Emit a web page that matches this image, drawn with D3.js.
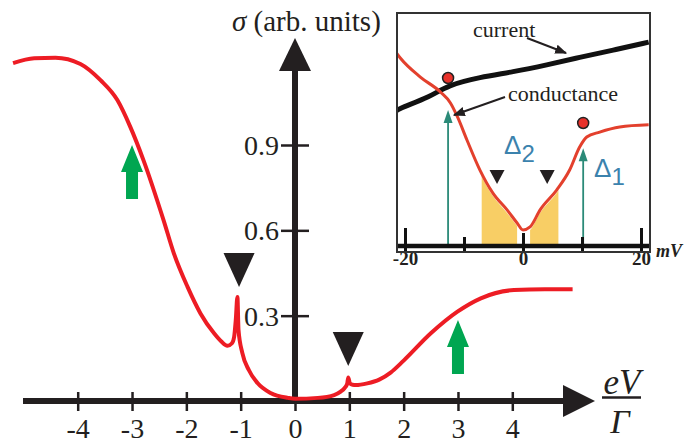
<!DOCTYPE html>
<html>
<head>
    <script type="text/javascript" src="https://d3js.org/d3.v7.min.js"></script>
    <style>
        body { margin: 0; background: #fff; }
        svg { display: block; }
    </style>
</head>
<body>
    <div id="chart"></div>
    <script type="text/javascript">
        // main curve, sigma vs eV/Gamma
        const sigmaX = [-5.19, -4.8, -4.41, -3.95, -3.58, -3.27, -3.03, -2.79, -2.42, -2.23, -1.98, -1.74, -1.49, -1.36, -1.245, -1.16, -1.12, -1.09, -1.06, -1.04, -0.97, -0.85, -0.69, -0.45, -0.13, 0, 0.42, 0.72, 0.84, 0.91, 0.96, 0.98, 1.01, 1.06, 1.12, 1.33, 1.55, 1.76, 2.0, 2.5, 2.99, 3.42, 4.03, 4.6, 5.11];
        const sigmaY = [1.188, 1.205, 1.207, 1.185, 1.128, 1.058, 0.963, 0.847, 0.636, 0.519, 0.402, 0.308, 0.238, 0.21, 0.194, 0.203, 0.226, 0.285, 0.366, 0.25, 0.169, 0.109, 0.063, 0.028, 0.011, 0.008, 0.011, 0.021, 0.033, 0.045, 0.06, 0.083, 0.062, 0.057, 0.056, 0.062, 0.075, 0.1, 0.142, 0.238, 0.314, 0.361, 0.39, 0.393, 0.393];
        const xTicks = [-4, -3, -2, -1, 0, 1, 2, 3, 4];
        const yTicks = [0.3, 0.6, 0.9];

        // annotations on the main plot
        const peakX = [-1.03, 0.98];     // black triangles
        const peakTop = [0.52, 0.243];
        const greenX = [-3, 3];          // green arrows
        const greenTop = [0.9, 0.285];
        const greenBottom = [0.71, 0.095];

        // inset (mV, arb. units 0..100)
        const currentMv = [-21.5, -20.8, -15.7, -12.8, -7.3, -1.7, 4.05, 9.6, 15.2, 21.3];
        const currentVal = [58, 59.2, 64, 69, 72.5, 74.7, 77.7, 81, 84, 87.5];
        const condMv = [-21.5, -20.8, -17.4, -14.0, -12.3, -11.1, -9.5, -7.3, -5.1, -2.7, -1.0, 0, 1.2, 2.9, 5.7, 7.9, 9.6, 10.8, 13.0, 16.4, 21.3];
        const condVal = [83, 80.7, 72.5, 66.1, 61.4, 55.4, 45.5, 32.6, 22.7, 15.5, 9.9, 6.9, 8.2, 15.5, 24, 32.6, 42.5, 46.8, 48.9, 51.1, 52];
        const insetTicks = [-20, -10, 0, 10, 20];
        const gapMv = [-12.7, 10.2];     // teal arrows
        const gapTip = [58.4, 42];
        const dotVal = [72.1, 52.8];     // red dots
        const smallTriMv = [-4.4, 4.1];
        const smallTriTop = [32.6, 32.6];
        const bandFrom = [-7, 1.2];
        const bandTo = [-1, 6];

        const ink = "#231f20";
        const serif = "Liberation Serif, Times New Roman, serif";

        const svg = d3.select("#chart").append("svg")
            .attr("width", 686)
            .attr("height", 441)
            .style("background-color", "white");

        const x = d3.scaleLinear().domain([-4, 4]).range([77.7, 512.3]);
        const y = d3.scaleLinear().domain([0, 0.9]).range([401, 145]);
        const x0 = x(0), y0 = y(0);

        // axes lines + arrowheads
        svg.append("line")
            .attr("x1", 23).attr("x2", 566).attr("y1", y0).attr("y2", y0)
            .attr("stroke", ink).attr("stroke-width", 6);
        svg.append("path")
            .attr("d", `M 563 ${y0 - 16} L 595 ${y0} L 563 ${y0 + 16} Z`)
            .attr("fill", ink);
        svg.append("line")
            .attr("x1", x0).attr("x2", x0).attr("y1", y0 + 3).attr("y2", 68)
            .attr("stroke", ink).attr("stroke-width", 6);
        svg.append("path")
            .attr("d", `M ${x0 - 16} 71 L ${x0} 38 L ${x0 + 16} 71 Z`)
            .attr("fill", ink);

        const gx = svg.append("g")
            .attr("transform", `translate(0,${y0})`)
            .call(d3.axisBottom(x).tickValues(xTicks).tickSizeOuter(0)
                .tickFormat(d => d < 0 ? "-" + Math.abs(d) : d));
        gx.attr("font-family", serif).attr("font-size", 28);
        gx.select(".domain").remove();
        gx.selectAll(".tick line").attr("y1", -9).attr("y2", 10)
            .attr("stroke", ink).attr("stroke-width", 2.5);
        gx.selectAll(".tick text").attr("y", 17).attr("dy", "0.71em").attr("fill", ink);

        const gy = svg.append("g")
            .attr("transform", `translate(${x0},0)`)
            .call(d3.axisLeft(y).tickValues(yTicks).tickSizeOuter(0).tickFormat(d3.format(".1f")));
        gy.attr("font-family", serif).attr("font-size", 28);
        gy.select(".domain").remove();
        gy.selectAll(".tick line").attr("x1", -14).attr("x2", 14)
            .attr("stroke", ink).attr("stroke-width", 2.5);
        gy.selectAll(".tick text").attr("x", -16).attr("dy", "0.34em").attr("fill", ink);

        // axis titles
        const yt = svg.append("text")
            .attr("x", 232).attr("y", 31)
            .attr("font-family", serif).attr("font-size", 29).attr("fill", ink);
        yt.append("tspan").attr("font-style", "italic").text("σ");
        yt.append("tspan").text(" (arb. units)");

        svg.append("text").attr("x", 622).attr("y", 394).attr("text-anchor", "middle")
            .attr("font-family", serif).attr("font-size", 35).attr("font-style", "italic")
            .attr("fill", ink).text("eV");
        svg.append("line").attr("x1", 602).attr("x2", 641).attr("y1", 397.5).attr("y2", 397.5)
            .attr("stroke", ink).attr("stroke-width", 2.5);
        svg.append("text").attr("x", 620).attr("y", 433).attr("text-anchor", "middle")
            .attr("font-family", serif).attr("font-size", 34).attr("font-style", "italic")
            .attr("fill", ink).text("Γ");

        // red conductance curve
        const sigmaData = sigmaX.map((d, i) => [d, sigmaY[i]]);
        svg.append("path")
            .datum(sigmaData)
            .attr("d", d3.line().x(d => x(d[0])).y(d => y(d[1])).curve(d3.curveMonotoneX))
            .attr("fill", "none")
            .attr("stroke", "#ed1c24")
            .attr("stroke-width", 4)
            .attr("stroke-linejoin", "round");

        // black triangles
        svg.selectAll("path.peak")
            .data(peakX.map((d, i) => [d, peakTop[i]]))
            .enter()
            .append("path")
            .attr("class", "peak")
            .attr("d", function(d){
                let cx = x(d[0]), t = y(d[1]);
                return `M ${cx - 15.5} ${t} L ${cx + 15.5} ${t} L ${cx} ${t + 34} Z`;
            })
            .attr("fill", ink);

        // green arrows
        svg.selectAll("path.green")
            .data(greenX.map((d, i) => [d, greenTop[i], greenBottom[i]]))
            .enter()
            .append("path")
            .attr("class", "green")
            .attr("d", function(d){
                let cx = x(d[0]), tip = y(d[1]), bot = y(d[2]), hb = tip + 27;
                return `M ${cx} ${tip} L ${cx + 11} ${hb} L ${cx + 6} ${hb} L ${cx + 6} ${bot} L ${cx - 6} ${bot} L ${cx - 6} ${hb} L ${cx - 11} ${hb} Z`;
            })
            .attr("fill", "#00a651");

        // ---------------- inset ----------------
        const ix = d3.scaleLinear().domain([-20, 20]).range([405, 641]);
        const iy = d3.scaleLinear().domain([0, 100]).range([246, 13]);
        const box = {x: 397, y: 13, w: 253, h: 239};

        const defs = svg.append("defs");
        defs.append("clipPath").attr("id", "insetClip")
            .append("rect").attr("x", box.x).attr("y", box.y).attr("width", box.w).attr("height", box.h);
        bandFrom.forEach((b, i) => {
            defs.append("clipPath").attr("id", "band" + i)
                .append("rect").attr("x", ix(b)).attr("y", box.y)
                .attr("width", ix(bandTo[i]) - ix(b)).attr("height", box.h);
        });
        defs.append("marker").attr("id", "arrowBlack")
            .attr("viewBox", "0 0 10 10").attr("refX", 9).attr("refY", 5)
            .attr("markerWidth", 6).attr("markerHeight", 6).attr("orient", "auto")
            .append("path").attr("d", "M 0 1 L 10 5 L 0 9 Z").attr("fill", ink);

        svg.append("rect")
            .attr("x", box.x).attr("y", box.y).attr("width", box.w).attr("height", box.h)
            .attr("fill", "white");

        const inset = svg.append("g").attr("clip-path", "url(#insetClip)");
        const condData = condMv.map((d, i) => [d, condVal[i]]);

        // yellow shaded bands under the conductance dip
        bandFrom.forEach((b, i) => {
            inset.append("path")
                .datum(condData)
                .attr("clip-path", `url(#band${i})`)
                .attr("d", d3.area().x(d => ix(d[0])).y0(iy(0)).y1(d => iy(d[1]) + 3).curve(d3.curveMonotoneX))
                .attr("fill", "#f7c54a")
                .attr("opacity", 0.85);
        });

        // teal arrows
        inset.selectAll("line.gap")
            .data(gapMv.map((d, i) => [d, gapTip[i]]))
            .enter()
            .append("line")
            .attr("class", "gap")
            .attr("x1", d => ix(d[0])).attr("x2", d => ix(d[0]))
            .attr("y1", iy(0)).attr("y2", d => iy(d[1]) + 10)
            .attr("stroke", "#2b8a78").attr("stroke-width", 1.8);
        inset.selectAll("path.gaphead")
            .data(gapMv.map((d, i) => [d, gapTip[i]]))
            .enter()
            .append("path")
            .attr("class", "gaphead")
            .attr("d", function(d){
                let cx = ix(d[0]), t = iy(d[1]);
                return `M ${cx} ${t} L ${cx + 4.5} ${t + 13} L ${cx - 4.5} ${t + 13} Z`;
            })
            .attr("fill", "#2b8a78");

        // current and conductance traces
        inset.append("path")
            .datum(currentMv.map((d, i) => [d, currentVal[i]]))
            .attr("d", d3.line().x(d => ix(d[0])).y(d => iy(d[1])).curve(d3.curveBasis))
            .attr("fill", "none").attr("stroke", "#111").attr("stroke-width", 5);
        inset.append("path")
            .datum(condData)
            .attr("d", d3.line().x(d => ix(d[0])).y(d => iy(d[1])).curve(d3.curveMonotoneX))
            .attr("fill", "none").attr("stroke", "#e3402d").attr("stroke-width", 3);

        // red dots
        inset.selectAll("circle.dot")
            .data(gapMv.map((d, i) => [d, dotVal[i]]))
            .enter()
            .append("circle")
            .attr("class", "dot")
            .attr("cx", d => ix(d[0])).attr("cy", d => iy(d[1])).attr("r", 5.5)
            .attr("fill", "#e8312a").attr("stroke", "#222").attr("stroke-width", 1.5);

        // small black triangles
        inset.selectAll("path.small")
            .data(smallTriMv.map((d, i) => [d, smallTriTop[i]]))
            .enter()
            .append("path")
            .attr("class", "small")
            .attr("d", function(d){
                let cx = ix(d[0]), t = iy(d[1]);
                return `M ${cx - 7.5} ${t} L ${cx + 7.5} ${t} L ${cx} ${t + 14} Z`;
            })
            .attr("fill", ink);

        // inset axis
        inset.append("line")
            .attr("x1", box.x).attr("x2", box.x + box.w).attr("y1", iy(0)).attr("y2", iy(0))
            .attr("stroke", "#111").attr("stroke-width", 4.5);
        const gi = svg.append("g")
            .attr("transform", `translate(0,${iy(0)})`)
            .call(d3.axisBottom(ix).tickValues(insetTicks).tickSizeOuter(0)
                .tickFormat(d => d === -20 || d === 0 || d === 20 ? d : ""));
        gi.attr("font-family", serif).attr("font-size", 19).attr("font-weight", "bold");
        gi.select(".domain").remove();
        gi.selectAll(".tick line")
            .attr("y1", d => Math.abs(d) === 20 ? -18 : (d === 0 ? -13 : -9))
            .attr("y2", 5)
            .attr("stroke", "#111").attr("stroke-width", 3);
        gi.selectAll(".tick text").attr("y", 19).attr("dy", null).attr("fill", ink);
        svg.append("text").attr("x", 656).attr("y", 257)
            .attr("font-family", serif).attr("font-size", 18)
            .attr("font-weight", "bold").attr("font-style", "italic")
            .attr("fill", ink).text("mV");

        // inset labels
        svg.append("text").attr("x", 473).attr("y", 37)
            .attr("font-family", serif).attr("font-size", 22).attr("fill", ink).text("current");
        svg.append("line").attr("x1", 527).attr("y1", 38).attr("x2", 566).attr("y2", 53)
            .attr("stroke", ink).attr("stroke-width", 2).attr("marker-end", "url(#arrowBlack)");
        svg.append("text").attr("x", 508).attr("y", 101)
            .attr("font-family", serif).attr("font-size", 22).attr("fill", ink).text("conductance");
        svg.append("line").attr("x1", 505).attr("y1", 97).attr("x2", 454).attr("y2", 115)
            .attr("stroke", ink).attr("stroke-width", 2).attr("marker-end", "url(#arrowBlack)");

        const deltaLabels = [["2", 504, 154], ["1", 594, 177]];
        svg.selectAll("text.delta")
            .data(deltaLabels)
            .enter()
            .append("text")
            .attr("class", "delta")
            .attr("x", d => d[1]).attr("y", d => d[2])
            .attr("font-family", "Liberation Sans, Arial, sans-serif")
            .attr("font-size", 26).attr("fill", "#3b82ad")
            .each(function(d){
                d3.select(this).append("tspan").text("Δ");
                d3.select(this).append("tspan").attr("dy", 8).attr("font-size", 24).text(d[0]);
            });

        // inset frame on top
        svg.append("rect")
            .attr("x", box.x).attr("y", box.y).attr("width", box.w).attr("height", box.h)
            .attr("fill", "none").attr("stroke", "#333").attr("stroke-width", 2);
    </script>
</body>
</html>
